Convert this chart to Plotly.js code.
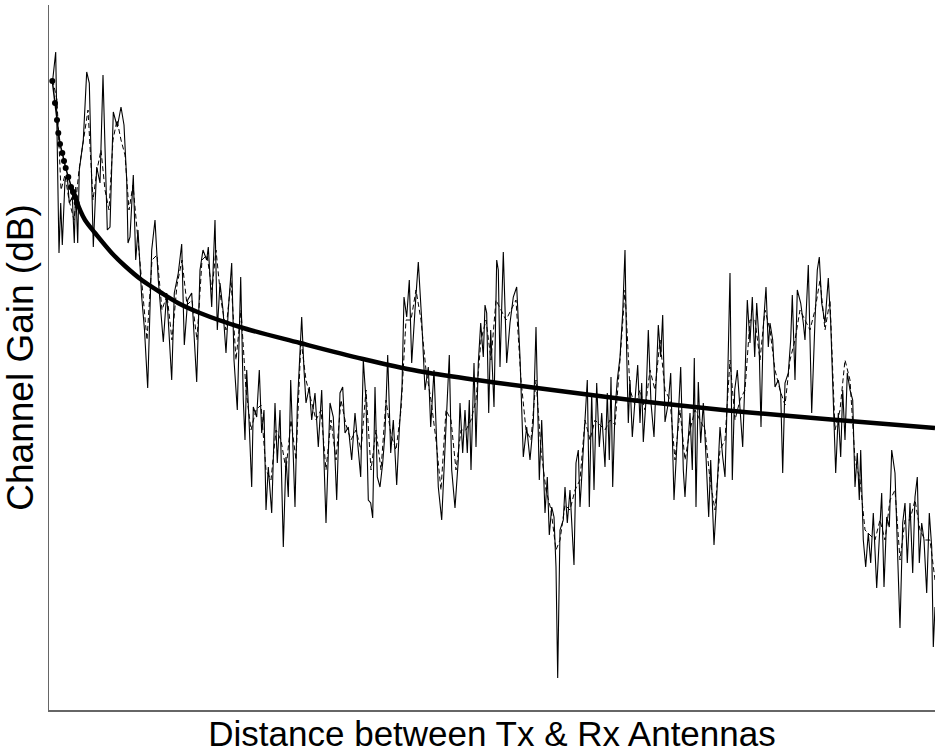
<!DOCTYPE html>
<html>
<head>
<meta charset="utf-8">
<script src="https://cdn.plot.ly/plotly-3.0.1.min.js"></script>
<style>
html,body{margin:0;padding:0;background:#fff;}
#chart{width:935px;height:755px;}
</style>
</head>
<body>
<div id="chart"></div>
<script>
// Measured channel gain (solid), distance in m and gain in dB
const measDist = [0.37,0.67,1.00,1.17,1.33,1.60,1.83,2.03,2.33,2.53,2.67,2.87,3.03,3.43,3.77,4.03,4.43,4.77,5.10,5.40,
5.83,6.10,6.43,6.83,7.20,7.50,7.77,7.90,8.10,8.43,8.67,8.90,9.27,9.55,9.87,10.27,10.60,10.93,11.43,11.77,
12.27,12.53,12.93,13.27,13.53,13.87,14.27,14.77,15.10,15.40,15.77,15.93,16.27,16.60,16.83,17.10,17.40,17.70,17.93,18.27,
18.50,18.83,19.17,19.43,19.60,19.77,20.03,20.27,20.43,20.77,21.03,21.27,21.50,21.70,21.93,22.27,22.60,22.83,23.10,23.43,
23.70,23.93,24.17,24.43,24.60,24.83,25.10,25.27,25.50,25.70,26.03,26.27,26.60,26.93,27.27,27.70,28.10,28.43,28.77,29.10,
29.37,29.60,29.93,30.27,30.60,30.93,31.17,31.43,31.70,31.93,32.17,32.37,32.60,32.83,33.10,33.37,33.60,33.87,34.17,34.43,
34.77,35.03,35.30,35.50,35.77,36.03,36.27,36.60,36.93,37.27,37.43,37.60,37.93,38.17,38.50,38.93,39.27,39.60,40.03,40.27,
40.60,40.93,41.10,41.37,41.60,41.83,42.03,42.20,42.50,42.70,42.93,43.17,43.43,43.60,43.77,43.97,44.17,44.50,44.77,44.93,
45.10,45.43,45.77,46.10,46.43,46.77,47.10,47.43,47.77,48.10,48.43,48.70,49.03,49.27,49.60,49.83,50.03,50.27,50.50,50.70,
50.87,51.10,51.43,51.60,51.83,52.10,52.50,52.70,52.93,53.10,53.37,53.60,53.83,54.03,54.27,54.50,54.77,55.03,55.27,55.60,
55.83,56.03,56.20,56.37,56.60,56.83,57.10,57.37,57.60,57.77,57.93,58.10,58.33,58.60,58.87,59.10,59.27,59.43,59.70,59.93,
60.20,60.50,60.77,60.93,61.17,61.37,61.60,61.93,62.17,62.50,62.83,63.17,63.43,63.60,63.87,64.10,64.33,64.53,64.70,64.93,
65.17,65.43,65.70,65.97,66.17,66.50,66.77,67.10,67.37,67.60,67.83,68.10,68.33,68.57,68.83,69.10,69.37,69.60,69.83,70.10,
70.33,70.57,70.77,71.00,71.20,71.43,71.70,71.93,72.10,72.37,72.60,72.93,73.17,73.37,73.60,73.93,74.17,74.33,74.60,74.83,
75.17,75.43,75.60,75.93,76.27,76.60,76.83,77.03,77.27,77.60,77.93,78.17,78.43,78.67,78.93,79.17,79.37,79.60,79.83,80.10,
80.37,80.60,80.83,81.03,81.17,81.43,81.67,81.93,82.17,82.43,82.77,83.03,83.27,83.50,83.77,84.03,84.27,84.60,84.83,85.10,
85.37,85.60,85.83,86.10,86.37,86.60,86.83,87.03,87.27,87.50,87.77,88.03,88.27,88.43,88.60];
const measGain = [-38.0,-35.2,-55.3,-50.3,-54.5,-48.0,-47.7,-50.3,-49.7,-54.3,-48.7,-54.3,-47.0,-44.0,-37.2,-38.3,-54.7,-46.7,-48.3,-37.5,
-53.0,-52.7,-41.2,-42.7,-40.7,-42.5,-48.0,-54.3,-53.7,-47.5,-56.0,-53.0,-59.7,-63.0,-68.8,-55.0,-52.0,-58.0,-64.2,-59.3,
-68.0,-59.3,-57.3,-54.4,-64.5,-60.0,-59.3,-68.2,-57.0,-55.0,-56.0,-54.7,-60.7,-52.0,-63.0,-58.3,-61.0,-65.3,-61.0,-56.3,
-66.0,-71.0,-57.7,-70.0,-74.0,-67.0,-72.7,-78.7,-70.7,-71.7,-67.0,-73.3,-71.0,-81.0,-76.7,-81.3,-70.3,-76.3,-71.0,-84.7,
-75.7,-79.7,-68.0,-76.7,-80.7,-70.7,-65.0,-61.7,-67.0,-70.3,-68.7,-72.0,-69.3,-74.7,-69.0,-82.3,-70.3,-71.7,-80.0,-69.3,
-68.7,-73.3,-72.7,-76.0,-71.3,-74.7,-77.7,-66.0,-70.0,-80.0,-80.3,-81.8,-68.7,-77.7,-78.7,-76.3,-73.3,-65.5,-75.3,-72.0,
-78.5,-73.0,-68.7,-59.7,-61.7,-58.0,-66.3,-61.0,-56.2,-62.0,-65.7,-69.0,-66.7,-72.7,-67.0,-78.7,-82.0,-74.7,-65.5,-77.0,
-80.8,-76.0,-70.3,-75.3,-71.0,-75.3,-70.0,-77.0,-66.3,-74.7,-66.3,-62.3,-65.7,-60.5,-61.3,-71.3,-63.0,-70.7,-56.0,-57.0,
-66.7,-55.2,-66.3,-62.3,-59.7,-58.7,-65.7,-75.7,-72.7,-76.0,-72.3,-62.7,-78.0,-72.0,-81.3,-77.7,-83.5,-80.7,-81.7,-86.7,
-97.8,-83.0,-82.0,-78.7,-82.3,-79.0,-86.5,-76.3,-75.0,-80.7,-76.0,-73.0,-68.0,-80.7,-69.3,-79.0,-68.3,-74.7,-71.3,-76.7,
-69.3,-76.0,-67.7,-78.7,-71.0,-68.0,-65.7,-61.3,-55.0,-65.3,-72.3,-68.0,-73.7,-70.0,-66.5,-72.3,-68.3,-74.2,-70.0,-63.0,
-70.3,-73.7,-66.3,-62.5,-65.7,-61.5,-72.2,-70.3,-67.3,-80.0,-73.7,-66.7,-77.0,-79.7,-74.7,-71.3,-77.0,-65.8,-80.7,-68.2,
-74.3,-70.3,-75.7,-81.7,-76.0,-84.5,-79.7,-72.7,-75.7,-77.7,-69.7,-57.3,-78.0,-69.0,-67.0,-70.7,-74.7,-67.7,-60.0,-64.3,
-59.7,-65.7,-60.3,-64.0,-72.7,-62.7,-58.7,-64.7,-62.3,-64.0,-68.7,-68.0,-69.3,-77.3,-68.3,-67.3,-64.0,-59.5,-68.0,-59.0,
-60.3,-62.3,-64.0,-56.5,-71.3,-62.0,-57.0,-55.7,-60.3,-62.3,-57.8,-62.3,-70.0,-77.3,-71.3,-75.7,-69.0,-74.0,-67.3,-69.0,
-70.0,-78.7,-75.3,-80.0,-75.0,-84.0,-86.7,-83.3,-86.3,-81.3,-88.8,-83.3,-79.3,-88.7,-81.7,-82.7,-75.0,-77.3,-84.0,-92.8,
-82.3,-80.3,-86.3,-80.3,-87.3,-79.7,-77.7,-86.3,-82.3,-84.0,-89.3,-81.3,-84.7,-94.7,-90.7];

// Second measurement (dashed)
const meas2Dist = [0.37,0.8,1.2,1.6,2.0,2.5,3.0,3.5,3.9,4.4,4.8,5.2,5.6,6.0,6.4,6.8,7.2,7.6,8.0,8.4,
8.8,9.3,9.8,10.3,10.8,11.3,11.8,12.3,12.8,13.3,13.8,14.3,14.8,15.3,15.8,16.3,16.7,17.2,17.7,18.2,
18.7,19.2,19.7,20.2,20.7,21.2,21.7,22.2,22.7,23.2,23.7,24.2,24.7,25.2,25.7,26.2,26.7,27.2,27.7,28.2,
28.7,29.2,29.7,30.2,30.7,31.2,31.7,32.2,32.7,33.2,33.7,34.2,34.7,35.2,35.7,36.2,36.7,37.2,37.7,38.2,
38.7,39.2,39.7,40.2,40.7,41.2,41.7,42.2,42.7,43.2,43.7,44.2,44.7,45.2,45.7,46.2,46.7,47.2,47.7,48.2,
48.7,49.2,49.7,50.2,50.7,51.1,51.6,52.1,52.6,53.1,53.6,54.1,54.6,55.1,55.6,56.1,56.6,57.1,57.6,58.1,
58.6,59.1,59.6,60.1,60.6,61.1,61.6,62.1,62.6,63.1,63.6,64.1,64.6,65.1,65.6,66.1,66.6,67.1,67.6,68.1,
68.6,69.1,69.6,70.1,70.6,71.1,71.6,72.1,72.6,73.1,73.6,74.1,74.6,75.1,75.6,76.1,76.6,77.1,77.6,78.1,
78.6,79.1,79.6,80.1,80.6,81.1,81.6,82.1,82.6,83.1,83.6,84.1,84.6,85.1,85.6,86.1,86.6,87.1,87.6,88.1,88.6];
const meas2Gain = [-38.0,-40.0,-49.0,-47.5,-50.0,-52.0,-47.0,-43.5,-41.0,-50.0,-47.0,-45.0,-49.0,-51.0,-44.0,-42.0,-44.0,-45.5,-51.0,-48.5,
-53.0,-58.0,-64.0,-56.0,-55.5,-61.0,-59.5,-64.0,-58.5,-56.0,-60.5,-60.0,-64.0,-56.0,-55.5,-59.0,-55.0,-60.0,-63.0,-58.0,
-66.0,-61.0,-69.0,-73.0,-71.0,-70.5,-77.0,-78.0,-73.0,-74.0,-77.0,-72.0,-76.0,-64.0,-68.0,-70.0,-72.0,-71.0,-77.0,-72.0,
-76.0,-70.0,-72.5,-74.0,-73.0,-75.0,-69.0,-77.0,-73.0,-77.0,-70.0,-73.5,-75.0,-71.0,-62.0,-62.0,-59.0,-62.0,-67.0,-70.0,
-74.0,-79.0,-71.0,-72.0,-77.0,-73.0,-73.0,-72.0,-70.0,-64.0,-62.0,-66.0,-60.0,-61.0,-62.0,-61.0,-60.0,-68.0,-73.0,-74.0,
-68.0,-75.0,-79.0,-81.0,-85.0,-84.0,-80.5,-81.0,-79.0,-78.0,-72.0,-74.0,-72.0,-72.5,-73.0,-72.0,-72.5,-66.0,-59.0,-69.0,
-70.5,-69.0,-71.0,-67.0,-69.0,-64.0,-69.0,-70.0,-76.0,-71.0,-76.0,-73.0,-71.0,-72.0,-73.0,-78.0,-81.0,-75.0,-74.0,-66.0,
-72.0,-70.0,-69.0,-62.0,-62.0,-66.0,-61.0,-63.0,-67.0,-69.0,-70.5,-66.0,-64.0,-61.0,-62.0,-63.0,-61.0,-58.0,-63.0,-60.0,
-73.0,-71.0,-66.0,-68.0,-76.0,-78.0,-83.0,-83.5,-84.0,-82.0,-84.0,-80.0,-79.0,-86.0,-82.0,-82.0,-80.0,-83.0,-84.0,-84.0,-88.0];

// Path-loss model: sampled points near the transmitter (dots) and the fitted curve
const modelDotDist = [0.33,0.60,0.80,0.93,1.10,1.33,1.50,1.67,1.93,2.20,2.40,2.60,2.77];
const modelDotGain = [-38.1,-40.3,-42.0,-43.3,-44.4,-45.3,-46.1,-46.8,-47.7,-48.7,-49.2,-49.7,-50.3];
const modelDist = [2.20,2.60,3.10,3.60,4.60,6.27,7.60,9.27,11.1,12.9,15.1,19.1,25.1,31.4,36.9,42.8,48.8,55.8,60.8,67.4,74.1,78.8,88.6];
const modelGain = [-48.7,-49.7,-51.0,-52.0,-53.3,-55.3,-56.6,-58.0,-59.2,-60.3,-61.3,-62.7,-64.3,-65.9,-67.1,-68.0,-68.8,-69.7,-70.3,-71.0,-71.6,-72.0,-72.8];

const xTitle = "Distance between Tx & Rx Antennas";
const yTitle = "Channel Gain (dB)";

const traces = [
  {x: meas2Dist, y: meas2Gain, mode: 'lines', line: {color: '#000', width: 1, dash: '5px,3px'}, hoverinfo: 'skip'},
  {x: measDist, y: measGain, mode: 'lines', line: {color: '#000', width: 1.1}},
  {x: modelDotDist, y: modelDotGain, mode: 'lines+markers', line: {color: '#000', width: 1.5}, marker: {color: '#000', size: 6}},
  {x: modelDist, y: modelGain, mode: 'lines', line: {color: '#000', width: 4.5, shape: 'spline'}}
];

const layout = {
  width: 935, height: 755,
  margin: {l: 49, r: 0, t: 5, b: 45},
  showlegend: false,
  paper_bgcolor: '#fff', plot_bgcolor: '#fff',
  font: {family: '"Liberation Sans", Arial, sans-serif', color: '#000'},
  xaxis: {
    range: [0, 88.6], showgrid: false, zeroline: false, showticklabels: false, ticks: '',
    showline: true, linecolor: '#666', linewidth: 1.5,
    title: {text: xTitle, font: {size: 35, color: '#000'}, standoff: 11}
  },
  yaxis: {
    range: [-101, -30.5], showgrid: false, zeroline: false, showticklabels: false, ticks: '',
    showline: true, linecolor: '#666', linewidth: 1.5,
    title: {text: yTitle, font: {size: 37, color: '#000'}, standoff: 2}
  }
};

Plotly.newPlot('chart', traces, layout, {displayModeBar: false, staticPlot: true});
</script>
</body>
</html>
